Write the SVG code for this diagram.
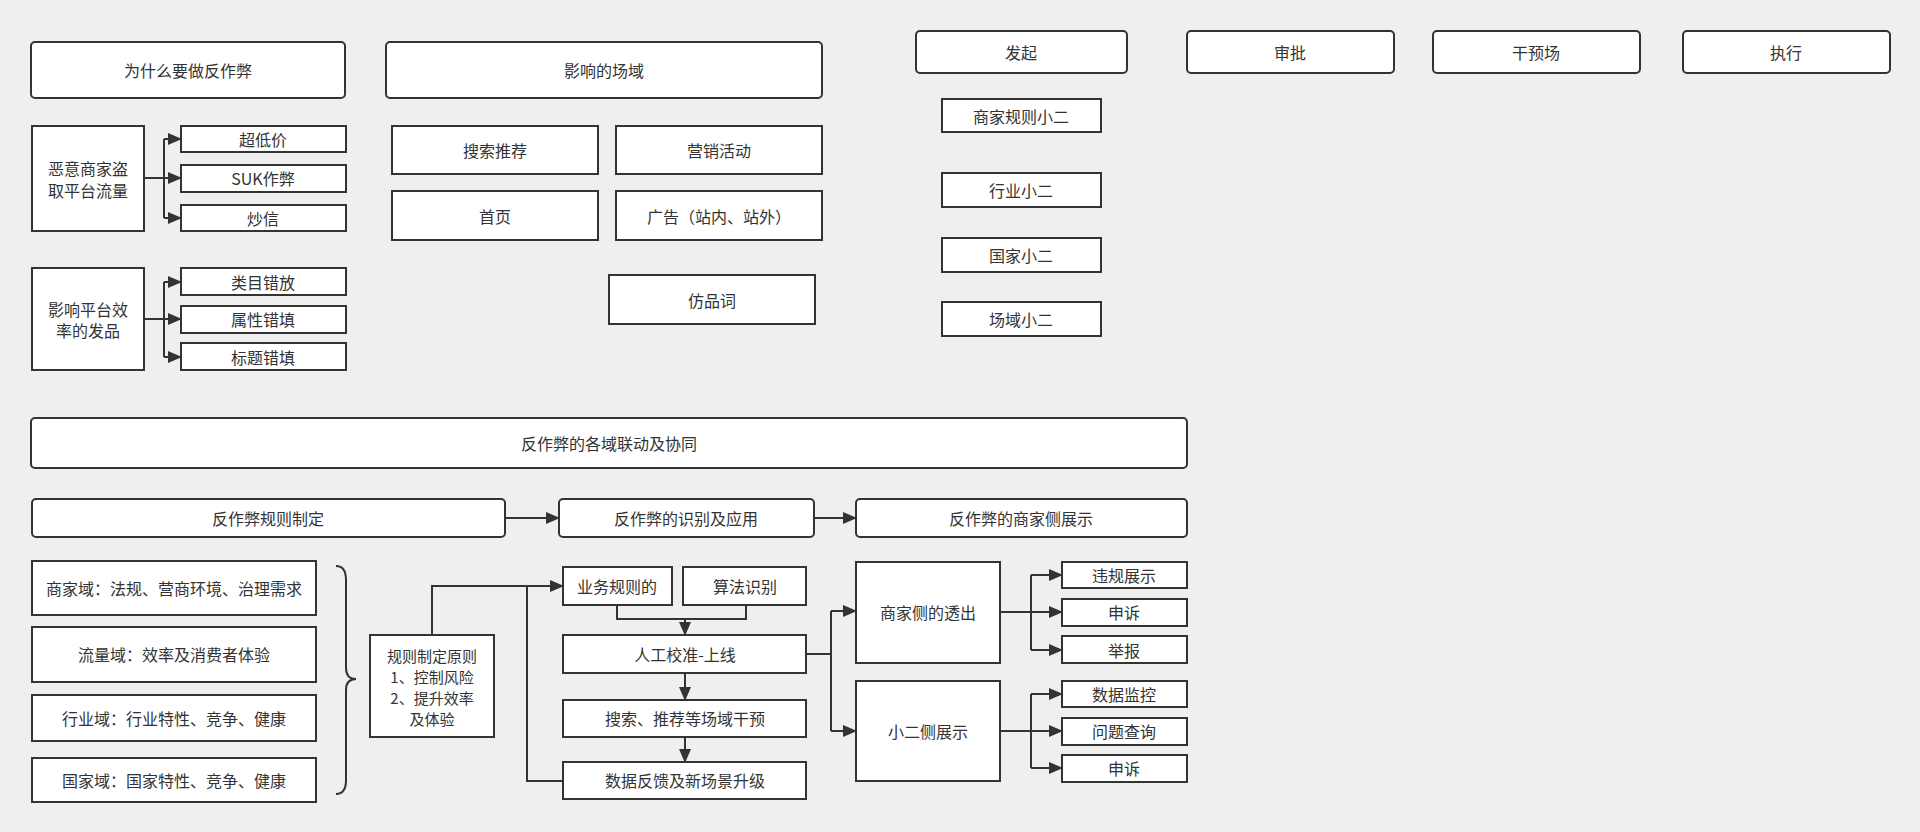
<svg xmlns="http://www.w3.org/2000/svg" width="1920" height="832" viewBox="0 0 1920 832">
<style>
.b{fill:#fff;stroke:#333;stroke-width:2}
.t{font-family:"Noto Sans CJK SC","Noto Sans",sans-serif;font-size:16px;fill:#333;text-anchor:middle;dominant-baseline:central}
.s{font-size:15px}
.c{fill:none;stroke:#333;stroke-width:2}
</style>
<defs><marker id="a" markerUnits="userSpaceOnUse" markerWidth="14" markerHeight="12" refX="13" refY="6" orient="auto"><path d="M0,0 L14,6 L0,12 Z" fill="#333"/></marker></defs>
<rect width="1920" height="832" fill="#efefef"/>
<g id="n-why"><rect class="b" x="31" y="42" width="314" height="56" rx="4"/><text class="t" x="188" y="70">为什么要做反作弊</text></g>
<g id="n-scene"><rect class="b" x="386" y="42" width="436" height="56" rx="4"/><text class="t" x="604" y="70">影响的场域</text></g>
<g id="n-fq"><rect class="b" x="916" y="31" width="211" height="42" rx="4"/><text class="t" x="1021" y="52">发起</text></g>
<g id="n-sp"><rect class="b" x="1187" y="31" width="207" height="42" rx="4"/><text class="t" x="1290" y="52">审批</text></g>
<g id="n-gy"><rect class="b" x="1433" y="31" width="207" height="42" rx="4"/><text class="t" x="1536" y="52">干预场</text></g>
<g id="n-zx"><rect class="b" x="1683" y="31" width="207" height="42" rx="4"/><text class="t" x="1786" y="52">执行</text></g>
<g id="n-x1"><rect class="b" x="942" y="99" width="159" height="33"/><text class="t" x="1021" y="116">商家规则小二</text></g>
<g id="n-x2"><rect class="b" x="942" y="173" width="159" height="34"/><text class="t" x="1021" y="190">行业小二</text></g>
<g id="n-x3"><rect class="b" x="942" y="238" width="159" height="34"/><text class="t" x="1021" y="255">国家小二</text></g>
<g id="n-x4"><rect class="b" x="942" y="302" width="159" height="34"/><text class="t" x="1021" y="319">场域小二</text></g>
<g id="n-m1"><rect class="b" x="32" y="126" width="112" height="105"/><text class="t" x="88" y="168">恶意商家盗</text><text class="t" x="88" y="190">取平台流量</text></g>
<g id="n-c1"><rect class="b" x="181" y="126" width="165" height="26"/><text class="t" x="263" y="139">超低价</text></g>
<g id="n-c2"><rect class="b" x="181" y="165" width="165" height="27"/><text class="t" x="263" y="178">SUK作弊</text></g>
<g id="n-c3"><rect class="b" x="181" y="205" width="165" height="26"/><text class="t" x="263" y="218">炒信</text></g>
<g id="n-m2"><rect class="b" x="32" y="268" width="112" height="102"/><text class="t" x="88" y="309">影响平台效</text><text class="t" x="88" y="330">率的发品</text></g>
<g id="n-c4"><rect class="b" x="181" y="268" width="165" height="27"/><text class="t" x="263" y="282">类目错放</text></g>
<g id="n-c5"><rect class="b" x="181" y="306" width="165" height="27"/><text class="t" x="263" y="319">属性错填</text></g>
<g id="n-c6"><rect class="b" x="181" y="343" width="165" height="27"/><text class="t" x="263" y="357">标题错填</text></g>
<g id="n-s1"><rect class="b" x="392" y="126" width="206" height="48"/><text class="t" x="495" y="150">搜索推荐</text></g>
<g id="n-s2"><rect class="b" x="616" y="126" width="206" height="48"/><text class="t" x="719" y="150">营销活动</text></g>
<g id="n-s3"><rect class="b" x="392" y="191" width="206" height="49"/><text class="t" x="495" y="216">首页</text></g>
<g id="n-s4"><rect class="b" x="616" y="191" width="206" height="49"/><text class="t" x="719" y="216">广告（站内、站外）</text></g>
<g id="n-s5"><rect class="b" x="609" y="275" width="206" height="49"/><text class="t" x="712" y="300">仿品词</text></g>
<g id="n-banner"><rect class="b" x="31" y="418" width="1156" height="50" rx="4"/><text class="t" x="609" y="443">反作弊的各域联动及协同</text></g>
<g id="n-h1"><rect class="b" x="32" y="499" width="473" height="38" rx="4"/><text class="t" x="268" y="518">反作弊规则制定</text></g>
<g id="n-h2"><rect class="b" x="559" y="499" width="255" height="38" rx="4"/><text class="t" x="686" y="518">反作弊的识别及应用</text></g>
<g id="n-h3"><rect class="b" x="856" y="499" width="331" height="38" rx="4"/><text class="t" x="1021" y="518">反作弊的商家侧展示</text></g>
<g id="n-d1"><rect class="b" x="32" y="561" width="284" height="54"/><text class="t" x="174" y="588">商家域：法规、营商环境、治理需求</text></g>
<g id="n-d2"><rect class="b" x="32" y="627" width="284" height="55"/><text class="t" x="174" y="654">流量域：效率及消费者体验</text></g>
<g id="n-d3"><rect class="b" x="32" y="695" width="284" height="46"/><text class="t" x="174" y="718">行业域：行业特性、竞争、健康</text></g>
<g id="n-d4"><rect class="b" x="32" y="758" width="284" height="44"/><text class="t" x="174" y="780">国家域：国家特性、竞争、健康</text></g>
<g id="n-rule"><rect class="b" x="370" y="635" width="124" height="102"/><text class="t s" x="432" y="655">规则制定原则</text><text class="t s" x="432" y="676">1、控制风险</text><text class="t s" x="432" y="697">2、提升效率</text><text class="t s" x="432" y="718">及体验</text></g>
<g id="n-yw"><rect class="b" x="563" y="567" width="109" height="38"/><text class="t" x="617" y="586">业务规则的</text></g>
<g id="n-sf"><rect class="b" x="683" y="567" width="123" height="38"/><text class="t" x="745" y="586">算法识别</text></g>
<g id="n-rg"><rect class="b" x="563" y="635" width="243" height="38"/><text class="t" x="685" y="654">人工校准-上线</text></g>
<g id="n-ss"><rect class="b" x="563" y="700" width="243" height="37"/><text class="t" x="685" y="718">搜索、推荐等场域干预</text></g>
<g id="n-sj"><rect class="b" x="563" y="762" width="243" height="37"/><text class="t" x="685" y="780">数据反馈及新场景升级</text></g>
<g id="n-sh"><rect class="b" x="856" y="562" width="144" height="101"/><text class="t" x="928" y="612">商家侧的透出</text></g>
<g id="n-xe"><rect class="b" x="856" y="681" width="144" height="100"/><text class="t" x="928" y="731">小二侧展示</text></g>
<g id="n-e1"><rect class="b" x="1062" y="562" width="125" height="26"/><text class="t" x="1124" y="575">违规展示</text></g>
<g id="n-e2"><rect class="b" x="1062" y="599" width="125" height="27"/><text class="t" x="1124" y="612">申诉</text></g>
<g id="n-e3"><rect class="b" x="1062" y="636" width="125" height="27"/><text class="t" x="1124" y="650">举报</text></g>
<g id="n-e4"><rect class="b" x="1062" y="681" width="125" height="26"/><text class="t" x="1124" y="694">数据监控</text></g>
<g id="n-e5"><rect class="b" x="1062" y="718" width="125" height="27"/><text class="t" x="1124" y="731">问题查询</text></g>
<g id="n-e6"><rect class="b" x="1062" y="755" width="125" height="27"/><text class="t" x="1124" y="768">申诉</text></g>
<g id="connectors">
<path class="c" d="M144,178 H164"/>
<path class="c" d="M164,139 V218" />
<path class="c" d="M164,139 H181" marker-end="url(#a)"/>
<path class="c" d="M164,178 H181" marker-end="url(#a)"/>
<path class="c" d="M164,218 H181" marker-end="url(#a)"/>
<path class="c" d="M144,319 H164"/>
<path class="c" d="M164,282 V357"/>
<path class="c" d="M164,282 H181" marker-end="url(#a)"/>
<path class="c" d="M164,319 H181" marker-end="url(#a)"/>
<path class="c" d="M164,357 H181" marker-end="url(#a)"/>
<path class="c" d="M505,518 H559" marker-end="url(#a)"/>
<path class="c" d="M814,518 H856" marker-end="url(#a)"/>
<path class="c" d="M336,566 Q346,566 346,580 V668 Q346,679 356,679 Q346,679 346,690 V780 Q346,794 336,794"/>
<path class="c" d="M432,635 V586 H563" marker-end="url(#a)"/>
<path class="c" d="M563,781 H527 V586"/>
<path class="c" d="M617,605 V619 H746 V605"/>
<path class="c" d="M685,619 V635" marker-end="url(#a)"/>
<path class="c" d="M685,673 V700" marker-end="url(#a)"/>
<path class="c" d="M685,737 V762" marker-end="url(#a)"/>
<path class="c" d="M806,654 H831"/>
<path class="c" d="M831,611 V731"/>
<path class="c" d="M831,611 H856" marker-end="url(#a)"/>
<path class="c" d="M831,731 H856" marker-end="url(#a)"/>
<path class="c" d="M1000,612 H1031"/>
<path class="c" d="M1031,575 V650"/>
<path class="c" d="M1031,575 H1062" marker-end="url(#a)"/>
<path class="c" d="M1031,612 H1062" marker-end="url(#a)"/>
<path class="c" d="M1031,650 H1062" marker-end="url(#a)"/>
<path class="c" d="M1000,731 H1031"/>
<path class="c" d="M1031,694 V768"/>
<path class="c" d="M1031,694 H1062" marker-end="url(#a)"/>
<path class="c" d="M1031,731 H1062" marker-end="url(#a)"/>
<path class="c" d="M1031,768 H1062" marker-end="url(#a)"/>
</g>
</svg>
